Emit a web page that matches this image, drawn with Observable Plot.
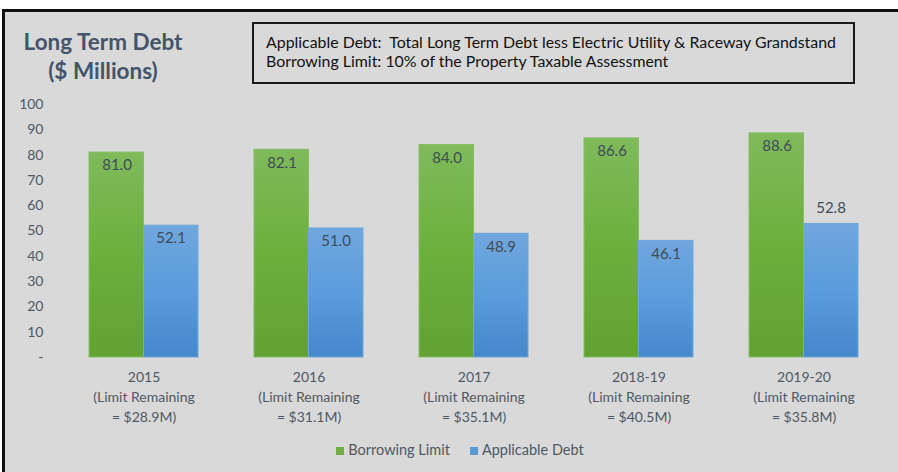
<!DOCTYPE html>
<html>
<head>
<meta charset="utf-8">
<script src="https://cdn.jsdelivr.net/npm/d3@7"></script>
<script src="https://cdn.jsdelivr.net/npm/@observablehq/plot@0.6"></script>
<style>
  body { margin: 0; background: #ffffff; }
  #wrap { position: relative; width: 898px; height: 472px; overflow: hidden; background: #ffffff; font-family: Lato, "Open Sans", sans-serif; }
  #panel { position: absolute; left: 2px; top: 9px; width: 896px; height: 463px; background: #d9d9d9; border-top: 3px solid #111; border-left: 3px solid #111; box-sizing: border-box; }
  #title { position: absolute; left: 6px; top: 27px; width: 194px; text-align: center; font-weight: bold; font-size: 22.5px; line-height: 29px; color: #44546a; }
  #note { position: absolute; left: 252px; top: 22px; width: 603px; height: 62px; box-sizing: border-box; border: 2px solid #1a1a1a; padding: 8px 0 0 12px; font-size: 15.9px; line-height: 19px; color: #111; white-space: nowrap; }
  #chart { position: absolute; left: 0; top: 0; }
  #legend { position: absolute; left: 11px; top: 441px; width: 898px; text-align: center; font-size: 14.5px; color: #4d5866; }
  #legend span.sw { display: inline-block; width: 8px; height: 8px; margin-right: 4px; vertical-align: 0px; }
  #legend span.item { margin: 0 10px; padding-left: 0; }
</style>
</head>
<body>
<div id="wrap">
  <div id="panel"></div>
  <div id="title">Long Term Debt<br>($ Millions)</div>
  <div id="note">Applicable Debt:&nbsp; Total Long Term Debt less Electric Utility &amp; Raceway Grandstand<br>Borrowing Limit: 10% of the Property Taxable Assessment</div>
  <div id="chart"></div>
  <div id="legend"></div>
</div>
<script>
const categories = ["2015", "2016", "2017", "2018-19", "2019-20"];
const limitRemaining = ["$28.9M", "$31.1M", "$35.1M", "$40.5M", "$35.8M"];
const borrowingLimit = [81.0, 82.1, 84.0, 86.6, 88.6];
const applicableDebt = [52.1, 51.0, 48.9, 46.1, 52.8];
const seriesNames = ["Borrowing Limit", "Applicable Debt"];
const seriesColors = ["#70ad47", "#5b9bd5"];
const yTicks = [0, 10, 20, 30, 40, 50, 60, 70, 80, 90, 100];
const outsideLabels = ["2019-20|Applicable Debt"];

const rows = [];
categories.forEach((c, i) => {
  rows.push({cat: c, series: seriesNames[0], value: borrowingLimit[i]});
  rows.push({cat: c, series: seriesNames[1], value: applicableDebt[i]});
});
const isOutside = d => outsideLabels.includes(d.cat + "|" + d.series);
const labelOf = {};
categories.forEach((c, i) => labelOf[c] = `${c}\n(Limit Remaining\n= ${limitRemaining[i]})`);

const green = rows.filter(d => d.series === seriesNames[0]);
const blue = rows.filter(d => d.series === seriesNames[1]);

const plot = Plot.plot({
  width: 898,
  height: 440,
  marginTop: 104,
  marginBottom: 83,
  marginLeft: 61,
  marginRight: 12,
  style: {background: "transparent", fontFamily: "Lato, 'Open Sans', sans-serif", fontSize: "14px", color: "#4d5866", overflow: "visible"},
  x: {domain: categories, paddingInner: 0.34, paddingOuter: 0.17, label: null},
  y: {domain: [0, 100], label: null},
  marks: [
    Plot.axisY({ticks: yTicks, tickSize: 0, tickPadding: 18, tickFormat: d => d === 0 ? "-" : String(d), fontSize: 14, fill: "#4d5866", label: null}),
    Plot.gridY(yTicks, {stroke: "#ececec", strokeOpacity: 1, strokeWidth: 2, x1: 61, x2: 888}),
    Plot.barY(green, {x: "cat", y: "value", fill: "url(#gradGreen)", stroke: "#86bf62", strokeWidth: 1, insetRight: 54.5}),
    Plot.barY(blue, {x: "cat", y: "value", fill: "url(#gradBlue)", stroke: "#6ea8dd", strokeWidth: 1, insetLeft: 54.5}),
    Plot.text(green.filter(d => !isOutside(d)), {x: "cat", y: "value", text: d => d.value.toFixed(1), dx: -27, dy: 13, fill: "#404b58", fontSize: 15}),
    Plot.text(blue.filter(d => !isOutside(d)), {x: "cat", y: "value", text: d => d.value.toFixed(1), dx: 27, dy: 13, fill: "#404b58", fontSize: 15}),
    Plot.text(blue.filter(isOutside), {x: "cat", y: "value", text: d => d.value.toFixed(1), dx: 27, dy: -16, fill: "#404b58", fontSize: 15}),
    Plot.axisX({tickSize: 0, tickPadding: 10, tickFormat: d => labelOf[d], fontSize: 14, fill: "#4d5866", lineHeight: 1.43, label: null})
  ]
});

// gradients for bars
const ns = "http://www.w3.org/2000/svg";
const defs = document.createElementNS(ns, "defs");
defs.innerHTML = `
  <linearGradient id="gradGreen" x1="0" y1="0" x2="0" y2="1">
    <stop offset="0" stop-color="#80ba5b"/>
    <stop offset="0.5" stop-color="#6cb03c"/>
    <stop offset="1" stop-color="#62a132"/>
  </linearGradient>
  <linearGradient id="gradBlue" x1="0" y1="0" x2="0" y2="1">
    <stop offset="0" stop-color="#70a7dd"/>
    <stop offset="0.5" stop-color="#5a9cdc"/>
    <stop offset="1" stop-color="#4487cb"/>
  </linearGradient>`;
plot.insertBefore(defs, plot.firstChild);
document.getElementById("chart").appendChild(plot);

const legend = document.getElementById("legend");
seriesNames.forEach((s, i) => {
  const item = document.createElement("span");
  item.className = "item";
  const sw = document.createElement("span");
  sw.className = "sw";
  sw.style.background = seriesColors[i];
  item.appendChild(sw);
  item.appendChild(document.createTextNode(s));
  legend.appendChild(item);
});
</script>
</body>
</html>
